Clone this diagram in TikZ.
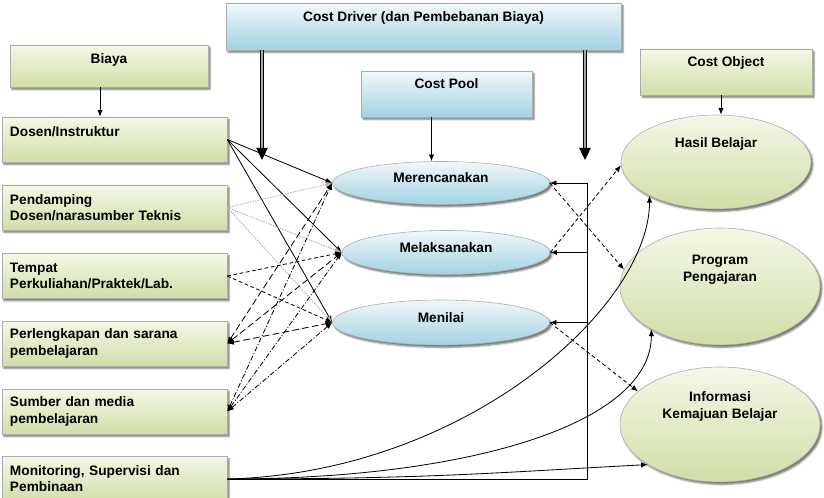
\documentclass[tikz,border=0pt]{standalone}
\usepackage{fontspec}
\setmainfont{Liberation Sans}
\usepackage{tikz}
\usetikzlibrary{shapes.geometric}
\usetikzlibrary{arrows.meta,calc,shadows.blur}
\definecolor{grnTop}{HTML}{F4F8E6}
\definecolor{grnBot}{HTML}{D0DEA8}
\definecolor{bluTop}{HTML}{F0F8FB}
\definecolor{bluBot}{HTML}{A2D2E3}
\newcommand\diafont{\fontsize{11.7}{13.8}\selectfont\bfseries}
\tikzset{
	box/.style={draw=gray!65, line width=0.5pt, font=\diafont,
			blur shadow={shadow xshift=0.6mm, shadow yshift=-0.7mm, shadow blur radius=0.5mm, shadow opacity=55}},
	greenbox/.style={box, top color=grnTop, bottom color=grnBot},
	bluebox/.style={box, top color=bluTop, bottom color=bluBot},
	headbox/.style={minimum height=13.8mm, text height=2.5mm, text depth=5.5mm, inner ysep=0pt},
	itembox/.style={greenbox, minimum height=13.5mm, text width=62.7mm, align=left, inner xsep=2.4mm},
	blueoval/.style={bluebox, ellipse, text height=2.5mm, text depth=2.5mm, inner sep=0pt},
	greenoval/.style={greenbox, ellipse},
	ovaltext/.style={font=\fontsize{11.7}{14.5}\selectfont\bfseries, align=center},
	arr/.style={-{Latex[length=2mm,width=1.6mm]}, line width=0.7pt},
	arrboth/.style={{Latex[length=2mm,width=1.6mm]}-{Latex[length=2mm,width=1.6mm]}, line width=0.7pt},
	bigarr/.style={-{Triangle[length=3.6mm,width=3.4mm]}, double=gray!70, double distance=0.5mm, line width=0.35mm}
}

\begin{document}
\begin{tikzpicture}[x=0.3mm, y=-0.3mm]
	\useasboundingbox (0,0) rectangle (824,498);
	\node[greenbox, headbox, text depth=3.8mm, minimum width=59.4mm, minimum height=12.6mm] (biaya) at (109,66) {Biaya};
	\node[bluebox, headbox, minimum width=118.5mm, minimum height=14.1mm] (costdriver) at (423.5,26.5) {Cost Driver (dan Pembebanan Biaya)};
	\node[bluebox, headbox, minimum width=51.3mm] (costpool) at (446.5,94) {Cost Pool};
	\node[greenbox, headbox, minimum width=51.6mm] (costobject) at (726,72) {Cost Object};

	\node[itembox] (dosen) at (114.5,139.5) {Dosen/Instruktur\\~};
	\node[itembox] (pendamping) at (114.5,207.5) {Pendamping\\Dosen/narasumber Teknis};
	\node[itembox] (tempat) at (114.5,276) {Tempat\\Perkuliahan/Praktek/Lab.};
	\node[itembox] (perlengkapan) at (114.5,343.5) {Perlengkapan dan sarana\\pembelajaran};
	\node[itembox] (sumber) at (114.5,411.5) {Sumber dan media\\pembelajaran};
	\node[itembox] (monitoring) at (114.5,479) {Monitoring, Supervisi dan\\Pembinaan};

	\node[blueoval, minimum width=65.1mm, minimum height=12.9mm] (meren) at (441,183) {Merencanakan};
	\node[blueoval, minimum width=62.4mm, minimum height=13.2mm] (melak) at (446,252.5) {Melaksanakan};
	\node[blueoval, minimum width=65.1mm, minimum height=13.5mm] (menilai) at (441,322.5) {Menilai};

	\node[greenoval, minimum width=57mm, minimum height=28.2mm] (hasil) at (716,162) {};
	\node[greenoval, minimum width=60mm, minimum height=35.1mm] (program) at (720,286.5) {};
	\node[greenoval, minimum width=60mm, minimum height=34.5mm] (informasi) at (720,424.5) {};
	\node[ovaltext] (hasiltext) at ([yshift=5.5mm]hasil.center) {Hasil Belajar};
	\node[ovaltext] (programtext) at ([yshift=5.1mm]program.center) {Program\\Pengajaran};
	\node[ovaltext] (informasitext) at ([yshift=5.5mm]informasi.center) {Informasi\\Kemajuan Belajar};

	% header arrows
	\draw[arr] ([xshift=-2.7mm]biaya.south) -- ([xshift=-2.7mm]biaya.south |- dosen.north);
	\draw[arr] ([xshift=-4.5mm]costpool.south) -- ([xshift=-4.5mm]costpool.south |- meren.north);
	\draw[arr] ([xshift=-1.5mm]costobject.south) -- ([xshift=-1.5mm]costobject.south |- hasil.north);
	\coordinate (cdleft) at (262,160);
	\coordinate (cdright) at (585,160);
	\draw[bigarr] (costdriver.south -| cdleft) -- (cdleft);
	\draw[bigarr] (costdriver.south -| cdright) -- (cdright);

	% biaya to cost pool
	\foreach \t in {meren,melak,menilai}
	\draw[arr] (dosen.east) -- (\t.west);
	\foreach \t in {meren,melak,menilai}
	\draw[arr, gray!60, line width=0.8pt, dash pattern=on 1.2pt off 1pt] (pendamping.east) -- (\t.west);
	\foreach \t in {melak,menilai}
	\draw[arr, dash pattern=on 1.1mm off 0.8mm] (tempat.east) -- (\t.west);
	\foreach \t in {meren,melak,menilai}
	\draw[arrboth, dash pattern=on 2mm off 1mm] (perlengkapan.east) -- (\t.west);
	\foreach \t in {meren,melak,menilai}
	\draw[arrboth, dash pattern=on 1.5mm off 0.6mm on 0.3mm off 0.6mm] (sumber.east) -- (\t.west);

	% monitoring
	\coordinate (bus) at (587,0);
	\draw[arr] (monitoring.east) -| (bus |- meren.east) -- (meren.east);
	\draw[arr] (bus |- melak.east) -- (melak.east);
	\draw[arr] (bus |- menilai.east) -- (menilai.east);
	\draw[arr] (monitoring.east) .. controls +(240,-6) and +(0,110) .. (hasil.207);
	\draw[arr] (monitoring.east) .. controls +(240,0) and +(0,95) .. (program.212);
	\draw[arr] (monitoring.east) .. controls +(200,0) and +(-150,8) .. (informasi.209);

	% cost pool to cost object
	\draw[arr, dash pattern=on 1.2mm off 0.8mm] (meren.east) -- (program.170);
	\draw[arr, dash pattern=on 1.2mm off 0.8mm] (melak.east) -- (hasil.182);
	\draw[arr, dash pattern=on 1.2mm off 0.8mm] (menilai.east) -- (informasi.158);
\end{tikzpicture}
\end{document}
